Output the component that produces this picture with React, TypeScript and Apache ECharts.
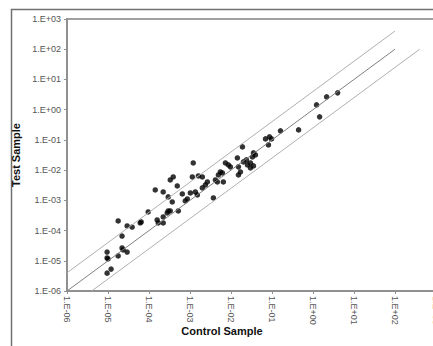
import React, { useEffect, useRef } from "react";
import * as echarts from "echarts";

const controlValues = [
  9.5e-6, 9.5e-6, 1.0e-5, 9.5e-6, 1.19e-5, 1.77e-5, 2.2e-5, 2.34e-5, 2.93e-5, 2.2e-5,
  1.77e-5, 2.93e-5, 3.88e-5, 6.44e-5, 6.1e-5, 9.55e-5, 1.58e-4, 2.22e-4, 1.68e-4, 2.22e-4,
  2.94e-4, 3.3e-4, 2.78e-4, 5.18e-4, 1.42e-4, 2.22e-4, 2.94e-4, 3.69e-4, 6.49e-4, 1.02e-3,
  1.35e-3, 1.51e-3, 7.67e-4, 8.6e-4, 3.9e-4, 3.3e-4, 4.89e-4, 1.14e-3, 1.6e-3, 2.0e-3,
  2.37e-3, 2.0e-3, 1.2e-3, 2.65e-3, 4.16e-3, 4.65e-3, 6.5e-3, 5.5e-3, 6.17e-3, 4.92e-3,
  7.3e-3, 8.63e-3, 9.66e-3, 3.72e-3, 1.52e-2, 1.7e-2, 1.52e-2, 1.43e-2, 2.01e-2, 2.38e-2,
  2.52e-2, 2.98e-2, 3.33e-2, 3.53e-2, 3.95e-2, 2.98e-2, 3.53e-2, 1.9e-2, 6.94e-2, 8.2e-2,
  9.73e-2, 8.69e-2, 0.161, 0.445, 1.22, 1.45, 2.15, 3.99,
];
const testValues = [
  1.95e-5, 1.24e-5, 1.15e-5, 3.9e-6, 5.3e-6, 1.44e-5, 2.65e-5, 2.28e-5, 1.95e-5, 6.6e-5,
  2.08e-4, 1.42e-4, 1.31e-4, 1.93e-4, 1.79e-4, 4.13e-4, 2.24e-4, 1.79e-4, 1.79e-4, 2.82e-4,
  4.46e-4, 4.46e-4, 3.83e-4, 4.46e-4, 2.21e-3, 1.9e-3, 1.3e-3, 8.85e-4, 1.63e-3, 1.76e-3,
  1.9e-3, 1.51e-3, 9.55e-4, 1.11e-3, 5.96e-3, 4.73e-3, 3.0e-3, 5.96e-3, 6.43e-3, 5.96e-3,
  3.24e-3, 2.58e-3, 1.73e-2, 4.06e-3, 4.73e-3, 4.06e-3, 4.06e-3, 8.7e-3, 8.07e-3, 6.93e-3,
  1.73e-2, 1.49e-2, 1.28e-2, 1.2e-3, 1.28e-2, 8.7e-3, 6.93e-3, 2.53e-2, 1.87e-2, 2.18e-2,
  1.49e-2, 1.73e-2, 2.74e-2, 3.72e-2, 3.19e-2, 1.18e-2, 1.38e-2, 5.86e-2, 0.108, 6.83e-2,
  0.108, 0.126, 0.199, 0.214, 1.44, 0.578, 2.65, 3.6,
];

const lineStart = 1e-6;
const lineEnd = 1e2;
const bandFactor = 4;

const axisMin = 1e-6;
const axisMax = 1e3;

function fmt(v: number): string {
  const e = Math.round(Math.log10(v));
  return "1.E" + (e < 0 ? "-" : "+") + String(Math.abs(e)).padStart(2, "0");
}

export default function App() {
  const ref = useRef<HTMLDivElement>(null);
  useEffect(() => {
    if (!ref.current) return;
    const chart = echarts.init(ref.current, undefined, { renderer: "svg" });
    const points = controlValues.map((c, i) => [c, testValues[i]]);
    const center = [[lineStart, lineStart], [lineEnd, lineEnd]];
    const upper = [[lineStart, lineStart * bandFactor], [lineEnd, lineEnd * bandFactor]];
    const lower = [[lineStart * bandFactor, lineStart], [lineEnd * bandFactor, lineEnd]];
    const labelStyle = { fontFamily: "Liberation Sans, Arial", fontSize: 9, color: "#555" };
    chart.setOption({
      animation: false,
      backgroundColor: "#fff",
      grid: {
        left: 67,
        top: 19,
        width: 369,
        height: 272,
        show: true,
        borderColor: "#a0a0a0",
        borderWidth: 2,
        backgroundColor: "transparent",
      },
      xAxis: {
        type: "log",
        logBase: 10,
        min: axisMin,
        max: axisMax,
        interval: 1,
        splitLine: { show: false },
        axisLine: { show: true, lineStyle: { color: "#909090", width: 2 } },
        axisTick: { show: true, length: 3, lineStyle: { color: "#909090" } },
        axisLabel: { ...labelStyle, rotate: -90, margin: 5, formatter: fmt },
      },
      yAxis: {
        type: "log",
        logBase: 10,
        min: axisMin,
        max: axisMax,
        interval: 1,
        splitLine: { show: false },
        axisLine: { show: true, lineStyle: { color: "#909090", width: 2 } },
        axisTick: { show: true, length: 3, lineStyle: { color: "#909090" } },
        axisLabel: { ...labelStyle, margin: 6, formatter: fmt },
        name: "Test Sample",
        nameLocation: "middle",
        nameGap: 40,
        nameTextStyle: { fontFamily: "Liberation Sans, Arial", fontSize: 11, fontWeight: "bold", color: "#111" },
      },
      graphic: [
        {
          type: "rect",
          shape: { x: 11.5, y: 9.5, width: 500, height: 400 },
          style: { fill: "none", stroke: "#707070", lineWidth: 1.5 },
          silent: true,
        },
        {
          type: "text",
          x: 222,
          y: 331,
          style: {
            text: "Control Sample",
            fontFamily: "Liberation Sans, Arial",
            fontSize: 11,
            fontWeight: "bold",
            fill: "#111",
            align: "center",
            verticalAlign: "middle",
          },
        },
      ],
      series: [
        {
          type: "line",
          data: upper,
          symbol: "none",
          lineStyle: { color: "#b0b0b0", width: 1 },
          silent: true,
        },
        {
          type: "line",
          data: center,
          symbol: "none",
          lineStyle: { color: "#808080", width: 1 },
          silent: true,
        },
        {
          type: "line",
          data: lower,
          symbol: "none",
          lineStyle: { color: "#b0b0b0", width: 1 },
          silent: true,
        },
        {
          type: "scatter",
          data: points,
          symbol: "circle",
          symbolSize: 5.5,
          itemStyle: { color: "#000" },
        },
      ],
    });
    return () => chart.dispose();
  }, []);
  return (
    <div style={{ position: "fixed", left: 0, top: 0, width: 433, height: 346, overflow: "hidden", background: "#fff" }}>
      <div ref={ref} style={{ width: 470, height: 346 }} />
    </div>
  );
}
